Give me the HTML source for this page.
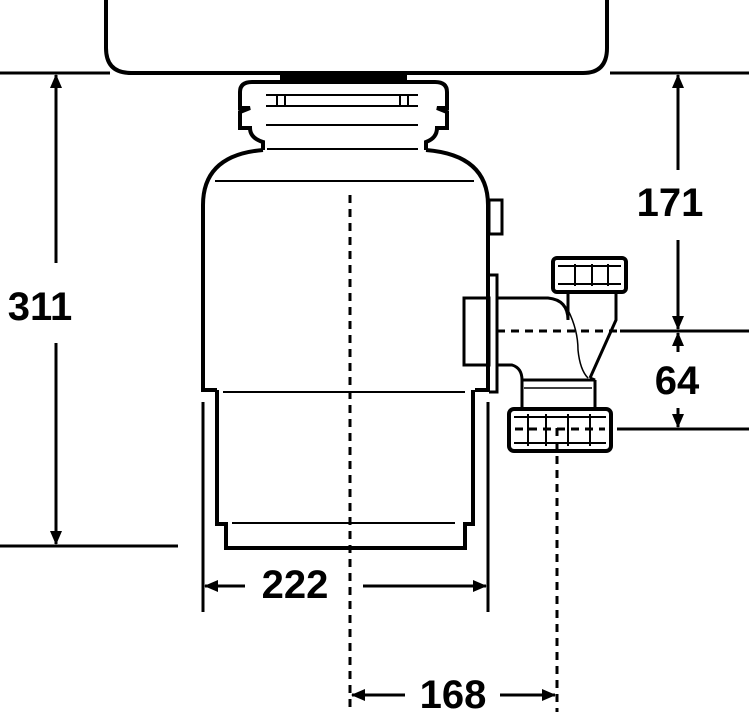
<!DOCTYPE html>
<html><head><meta charset="utf-8"><style>html,body{margin:0;padding:0;background:#fff}svg{display:block}</style></head>
<body>
<svg width="749" height="712" viewBox="0 0 749 712" xmlns="http://www.w3.org/2000/svg" font-family="Liberation Sans, sans-serif" font-weight="bold">
<defs><marker id="a" markerWidth="14" markerHeight="14" refX="13" refY="7" orient="auto-start-reverse" markerUnits="userSpaceOnUse"><path d="M0,1 L14,7 L0,13 z" fill="#000"/></marker></defs>
<g fill="none" stroke="#000">
<!-- sink -->
<path d="M106,0 V48 Q106,73 131,73 H583 Q607,73 607,48 V0" stroke-width="4"/>
<line x1="0" y1="73" x2="110" y2="73" stroke-width="3"/>
<line x1="610" y1="73" x2="749" y2="73" stroke-width="3"/>
<rect x="280" y="73" width="127" height="9" fill="#000" stroke="none"/>
<!-- collar -->
<path d="M263,150 V142 Q250,138 250,128 H240 V112 L250,108 H240 V92 Q240,82 252,82 H435 Q447,82 447,92 V108 H437 L447,112 V128 H437 Q437,138 426,142 V150" stroke-width="4"/>
<line x1="266" y1="95" x2="418" y2="95" stroke-width="2"/>
<line x1="266" y1="106" x2="418" y2="106" stroke-width="2"/>
<line x1="277" y1="95" x2="277" y2="106" stroke-width="2"/>
<line x1="285" y1="95" x2="285" y2="106" stroke-width="2"/>
<line x1="400" y1="95" x2="400" y2="106" stroke-width="2"/>
<line x1="408" y1="95" x2="408" y2="106" stroke-width="2"/>
<line x1="266" y1="125" x2="418" y2="125" stroke-width="2"/>
<line x1="267" y1="149" x2="418" y2="149" stroke-width="2"/>
<!-- body -->
<path d="M263,150 Q203,155 203,205 V390 H215 V392" stroke-width="4"/>
<path d="M426,150 Q488,155 488,205 V390 H475" stroke-width="4"/>
<line x1="215" y1="181" x2="474" y2="181" stroke-width="2"/>
<rect x="489" y="200" width="13" height="34" stroke-width="3"/>
<path d="M217,390 V524 H226 V548 H465 V524 H473 V390" stroke-width="4"/>
<line x1="223" y1="392" x2="465" y2="392" stroke-width="2"/>
<line x1="232" y1="523" x2="455" y2="523" stroke-width="2"/>
<!-- flange -->
<path d="M489,275 H497 V392 H489" stroke-width="3"/>
<rect x="464" y="298" width="25" height="67" stroke-width="3"/>
<!-- pipe -->
<path d="M497,298 H548 Q568,300 568,320 V292" stroke-width="3"/>
<path d="M568,310 Q578,330 578,350 Q580,370 588,378" stroke-width="1.5"/>
<path d="M616,292 V320 L590,378" stroke-width="3"/>
<path d="M497,365 H512 Q522,368 522,380 H595 L590,378" stroke-width="3"/>
<path d="M522,380 V408 M595,380 V408" stroke-width="3"/>
<line x1="524" y1="388" x2="592" y2="388" stroke-width="1.5"/>
<rect x="553" y="258" width="73" height="34" rx="4" stroke-width="4"/>
<line x1="558" y1="266" x2="621" y2="266" stroke-width="2"/>
<line x1="558" y1="284" x2="621" y2="284" stroke-width="2"/>
<line x1="575" y1="264" x2="575" y2="286" stroke-width="2"/>
<line x1="592" y1="264" x2="592" y2="286" stroke-width="2"/>
<line x1="608" y1="264" x2="608" y2="286" stroke-width="2"/>
<rect x="509" y="409" width="102" height="42" rx="5" stroke-width="4"/>
<line x1="514" y1="417" x2="606" y2="417" stroke-width="2"/>
<line x1="514" y1="443" x2="606" y2="443" stroke-width="2"/>
<line x1="528" y1="414" x2="528" y2="446" stroke-width="2"/>
<line x1="546" y1="414" x2="546" y2="446" stroke-width="2"/>
<line x1="568" y1="414" x2="568" y2="446" stroke-width="2"/>
<line x1="590" y1="414" x2="590" y2="446" stroke-width="2"/>
<!-- center lines -->
<line x1="350" y1="195" x2="350" y2="712" stroke-width="3" stroke-dasharray="8,6"/>
<line x1="557" y1="428" x2="557" y2="712" stroke-width="3" stroke-dasharray="8,6"/>
<line x1="497" y1="331" x2="620" y2="331" stroke-width="3" stroke-dasharray="8,6"/>
<line x1="515" y1="429" x2="605" y2="429" stroke-width="3" stroke-dasharray="8,6"/>
<!-- dim lines -->
<line x1="620" y1="331" x2="749" y2="331" stroke-width="3"/>
<line x1="617" y1="429" x2="749" y2="429" stroke-width="3"/>
<line x1="0" y1="546" x2="178" y2="546" stroke-width="3"/>
<line x1="56" y1="75" x2="56" y2="263" stroke-width="3" marker-start="url(#a)"/>
<line x1="56" y1="343" x2="56" y2="544" stroke-width="3" marker-end="url(#a)"/>
<line x1="678" y1="75" x2="678" y2="170" stroke-width="3" marker-start="url(#a)"/>
<line x1="678" y1="240" x2="678" y2="329" stroke-width="3" marker-end="url(#a)"/>
<line x1="678" y1="333" x2="678" y2="352" stroke-width="3" marker-start="url(#a)"/>
<line x1="678" y1="408" x2="678" y2="427" stroke-width="3" marker-end="url(#a)"/>
<line x1="203" y1="402" x2="203" y2="612" stroke-width="3"/>
<line x1="488" y1="402" x2="488" y2="612" stroke-width="3"/>
<line x1="205" y1="586" x2="245" y2="586" stroke-width="3" marker-start="url(#a)"/>
<line x1="363" y1="586" x2="486" y2="586" stroke-width="3" marker-end="url(#a)"/>
<line x1="352" y1="695" x2="405" y2="695" stroke-width="3" marker-start="url(#a)"/>
<line x1="500" y1="695" x2="555" y2="695" stroke-width="3" marker-end="url(#a)"/>
</g>
<g fill="#000" font-size="40" text-anchor="middle">
<text x="40" y="320">311</text>
<text x="670" y="216">171</text>
<text x="677" y="394">64</text>
<text x="295" y="598">222</text>
<text x="453" y="708">168</text>
</g>
</svg>
</body></html>
